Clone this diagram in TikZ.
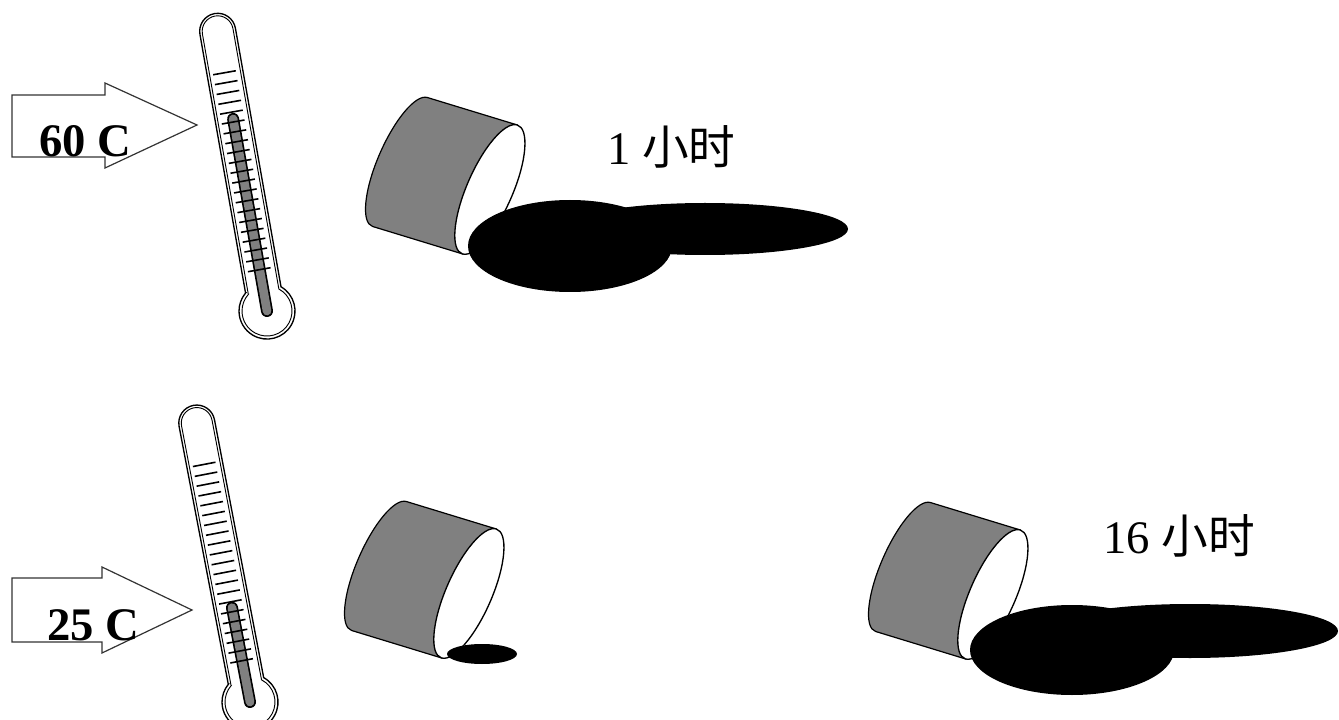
\documentclass[tikz,border=0pt]{standalone}
\usepackage{fontspec}
\setmainfont{Liberation Serif}
\newfontfamily\cjk{Noto Sans CJK SC}
\begin{document}
\begin{tikzpicture}[x=0.75pt,y=-0.75pt]
\tikzstyle{glass}=[draw=black,line width=1pt,fill=white]
\tikzstyle{canbody}=[draw=black,line width=0.9pt,fill=gray]
\tikzstyle{bigarrow}=[draw=black!80,line width=0.9pt,fill=white]
\tikzstyle{temp}=[font=\bfseries\fontsize{35}{38}\selectfont,anchor=base west,inner sep=0pt]
\tikzstyle{hours}=[font=\fontsize{35}{40}\selectfont,anchor=base west,inner sep=0pt]
\useasboundingbox (0,0) rectangle (1339,720);
% thermometers : bulb, tilt, mercury
\foreach \bx/\by/\tilt/\merc in {267/311/10/195, 250/702/10.8/96} {
  \begin{scope}[shift={(\bx,\by)},rotate=\tilt]
    \draw[glass] (-18,-21.4) -- (-18,-284) arc[start angle=180,end angle=360,radius=18]
      -- (18,-21.4) arc[start angle=-50,end angle=230,radius=28] -- cycle;
    \draw[line width=0.7pt] (-15.5,-19.6) -- (-15.5,-284) arc[start angle=180,end angle=360,radius=15.5]
      -- (15.5,-19.6) arc[start angle=-51.7,end angle=231.7,radius=25] -- cycle;
    \draw[line width=9pt,line cap=round] (0,0) -- (0,-\merc);
    \draw[line width=6.5pt,line cap=round,gray] (0,0) -- (0,-\merc);
    \foreach \t in {0,...,20}
      \draw[line width=1.2pt] (-12,-42-10*\t) -- (11,-42-10*\t);
  \end{scope}
}
% arrows
\draw[bigarrow] (12,95) -- (105,95) -- (105,83) -- (197,125) -- (105,168) -- (105,157) -- (12,157) -- cycle;
\node[temp] (t60) at (39,157) {60 C};
\draw[bigarrow] (12,578) -- (102,578) -- (102,567) -- (192,610) -- (102,653) -- (102,642) -- (12,642) -- cycle;
\node[temp] (t25) at (47,640) {25 C};
% cans
\foreach \cx/\cy in {400/162, 379/566, 903/567} {
  \begin{scope}[shift={(\cx,\cy)},x={(0.717pt,-0.219pt)},y={(-0.293pt,-0.691pt)}]
    \draw[canbody] (0,-70) -- (94,-70) -- (94,70) -- (0,70)
      arc[start angle=90,end angle=270,x radius=22,y radius=70] -- cycle;
    \draw[glass] (94,0) ellipse[x radius=23,y radius=70];
  \end{scope}
}
% spills
\fill (570,246) ellipse[x radius=102,y radius=46];
\fill (705,229) ellipse[x radius=143,y radius=26];
\fill (482,654) ellipse[x radius=35,y radius=10];
\fill (1072,650) ellipse[x radius=102,y radius=45];
\fill (1190,631) ellipse[x radius=148,y radius=27];
\node[hours] (hr1) at (607,165) {1 {\cjk 小时}};
\node[hours] (hr16) at (1103,553) {16 {\cjk 小时}};
\end{tikzpicture}
\end{document}
